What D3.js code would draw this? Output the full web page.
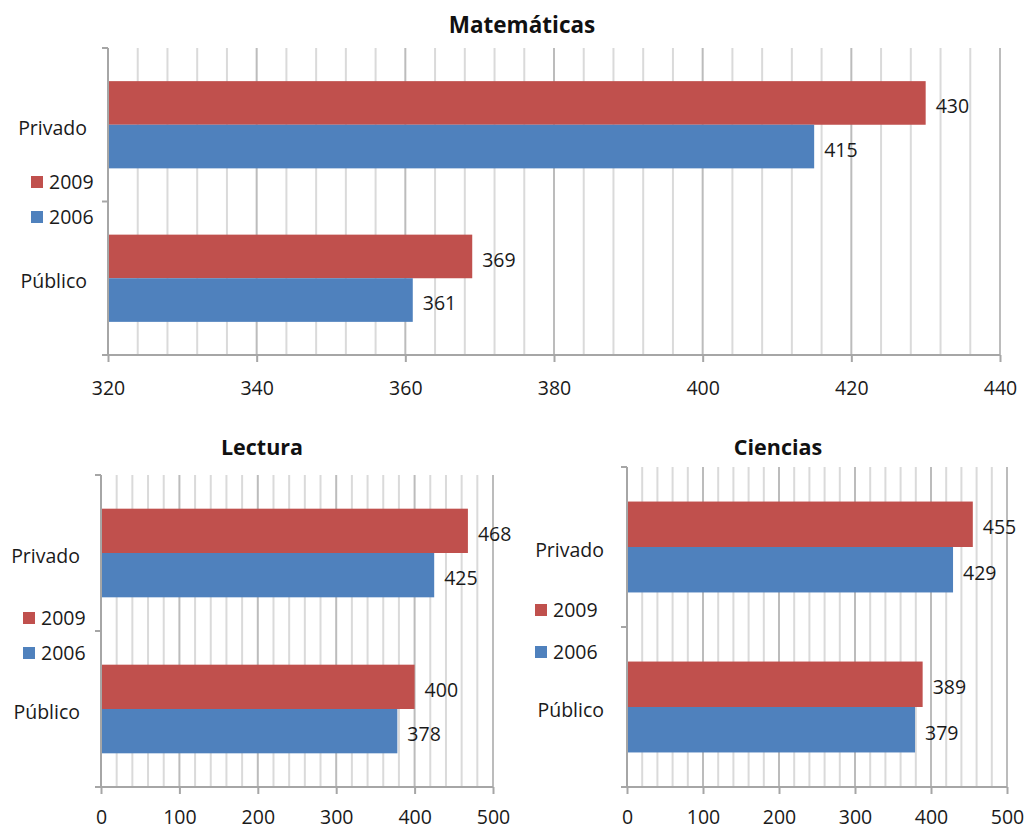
<!DOCTYPE html>
<html>
<head>
<meta charset="utf-8">
<script src="https://cdn.jsdelivr.net/npm/d3@7"></script>
<style>
  html, body { margin: 0; padding: 0; background: #ffffff; }
  svg { display: block; font-family: "Open Sans", "Noto Sans", sans-serif; }
</style>
</head>
<body>
<svg id="chart" width="1027" height="830"></svg>
<script>
// Categories and series (2009 drawn above 2006 within each group)
const categories = ["Privado", "Público"];
const years = ["2009", "2006"];
const yearColors = ["#C0504D", "#4F81BD"];

// PISA scores by school type
const matematicas2009 = [430, 369];
const matematicas2006 = [415, 361];
const lectura2009 = [468, 400];
const lectura2006 = [425, 378];
const ciencias2009 = [455, 389];
const ciencias2006 = [429, 379];

// Axis tick labels
const matematicasTicks = [320, 340, 360, 380, 400, 420, 440];
const lowerTicks = [0, 100, 200, 300, 400, 500];

const svg = d3.select("#chart");

function drawPanel(cfg) {
  const g = svg.append("g");
  const x = d3.scaleLinear().domain(cfg.domain).range([cfg.left, cfg.right]);
  const y = d3.scaleBand().domain(categories).range([cfg.top, cfg.bottom]).padding(0);
  const yInner = d3.scaleBand().domain(years).range([0, y.step()])
    .paddingInner(0).paddingOuter(0.76);

  // Vertical gridlines: minor then major
  const minor = d3.range(cfg.domain[0], cfg.domain[1] + 1e-9, cfg.minorStep)
    .filter(v => !cfg.ticks.includes(v));
  g.append("g").selectAll("line").data(minor).join("line")
    .attr("x1", d => x(d)).attr("x2", d => x(d))
    .attr("y1", cfg.top).attr("y2", cfg.bottom)
    .attr("stroke", "#dadada").attr("stroke-width", 2);
  g.append("g").selectAll("line").data(cfg.ticks.slice(1)).join("line")
    .attr("x1", d => x(d)).attr("x2", d => x(d))
    .attr("y1", cfg.top).attr("y2", cfg.bottom)
    .attr("stroke", "#bcbcbc").attr("stroke-width", 2);

  // Bars
  const rows = [];
  categories.forEach((c, i) => {
    years.forEach((yr, j) => {
      rows.push({ cat: c, year: yr, value: cfg.series[j][i], color: yearColors[j] });
    });
  });
  g.append("g").selectAll("rect").data(rows).join("rect")
    .attr("x", x(cfg.domain[0]))
    .attr("y", d => y(d.cat) + yInner(d.year))
    .attr("width", d => x(d.value) - x(cfg.domain[0]))
    .attr("height", yInner.bandwidth())
    .attr("fill", d => d.color);

  // Value labels
  g.append("g").selectAll("text").data(rows).join("text")
    .attr("x", d => x(d.value) + 10)
    .attr("y", d => y(d.cat) + yInner(d.year) + yInner.bandwidth() / 2)
    .attr("dy", "0.52em")
    .attr("font-size", 19.5)
    .attr("fill", "#1a1a1a")
    .text(d => d.value);

  // Horizontal axis
  const axis = g.append("g")
    .attr("transform", `translate(0,${cfg.bottom})`)
    .call(d3.axisBottom(x).tickValues(cfg.ticks).tickSize(7).tickSizeOuter(0));
  axis.select(".domain").attr("stroke", "#a6a6a6").attr("stroke-width", 2)
    .attr("d", `M${cfg.left - 6},0H${cfg.right}`);
  axis.selectAll(".tick line").attr("stroke", "#a6a6a6").attr("stroke-width", 2);
  axis.selectAll(".tick text")
    .attr("y", cfg.labelOffset).attr("dy", "0.35em")
    .attr("font-size", 19.5).attr("fill", "#1a1a1a")
    .attr("font-family", "Open Sans, Noto Sans, sans-serif");

  // Vertical category axis with boundary ticks
  g.append("line")
    .attr("x1", cfg.left).attr("x2", cfg.left)
    .attr("y1", cfg.top).attr("y2", cfg.bottom)
    .attr("stroke", "#a6a6a6").attr("stroke-width", 2);
  const bounds = [y.range()[0]].concat(categories.map(c => y(c) + y.step()));
  g.append("g").selectAll("line").data(bounds).join("line")
    .attr("x1", cfg.left - 6).attr("x2", cfg.left)
    .attr("y1", d => d).attr("y2", d => d)
    .attr("stroke", "#a6a6a6").attr("stroke-width", 2);

  // Category labels
  g.append("g").selectAll("text").data(categories).join("text")
    .attr("x", cfg.catX)
    .attr("y", d => y(d) + y.step() / 2)
    .attr("dy", "0.5em")
    .attr("text-anchor", "end")
    .attr("font-size", 19.5).attr("fill", "#1a1a1a")
    .text(d => d);

  // Legend
  const leg = g.append("g").selectAll("g").data(years).join("g")
    .attr("transform", (d, i) => `translate(${cfg.legX},${cfg.legY + i * cfg.legGap})`);
  leg.append("rect").attr("x", 0).attr("y", -6).attr("width", 12).attr("height", 12)
    .attr("fill", (d, i) => yearColors[i]);
  leg.append("text").attr("x", 18).attr("y", 0).attr("dy", "0.38em")
    .attr("font-size", 19.5).attr("fill", "#1a1a1a")
    .text(d => d);

  // Title
  g.append("text")
    .attr("x", cfg.titleX).attr("y", cfg.titleY)
    .attr("text-anchor", "middle")
    .attr("font-weight", "bold").attr("font-size", cfg.titleSize)
    .attr("fill", "#111")
    .text(cfg.title);
}

drawPanel({
  title: "Matemáticas", titleX: 522, titleY: 33, titleSize: 22.5,
  domain: [320, 440], ticks: matematicasTicks, minorStep: 4,
  left: 108, right: 1000, top: 48, bottom: 355, labelOffset: 33,
  series: [matematicas2009, matematicas2006],
  catX: 87, legX: 31, legY: 182, legGap: 35
});

drawPanel({
  title: "Lectura", titleX: 262, titleY: 455, titleSize: 21.5,
  domain: [0, 500], ticks: lowerTicks, minorStep: 20,
  left: 101, right: 493, top: 475, bottom: 787, labelOffset: 30,
  series: [lectura2009, lectura2006],
  catX: 80, legX: 23, legY: 618, legGap: 35
});

drawPanel({
  title: "Ciencias", titleX: 778, titleY: 455, titleSize: 21.5,
  domain: [0, 500], ticks: lowerTicks, minorStep: 20,
  left: 627, right: 1007, top: 467, bottom: 787, labelOffset: 30,
  series: [ciencias2009, ciencias2006],
  catX: 604, legX: 535, legY: 610, legGap: 42
});
</script>
</body>
</html>
